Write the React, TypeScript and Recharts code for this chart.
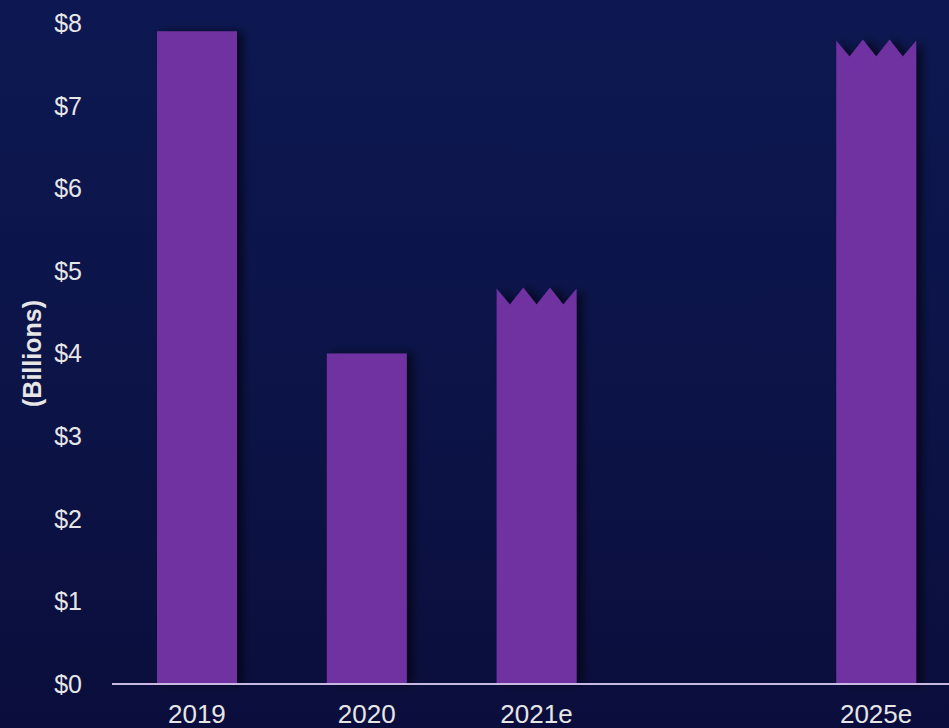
import React from "react";
import { BarChart, Bar, XAxis, YAxis } from "recharts";

const years = ["2019", "2020", "2021e", "", "2025e"];
const revenue = [7.9, 4.0, 4.8, null, 7.8];
const estimated = [false, false, true, false, true];
const yTicks = [0, 1, 2, 3, 4, 5, 6, 7, 8];

const data = years.map((year, i) => ({
  year,
  revenue: revenue[i],
  estimated: estimated[i],
}));

const FONT = '"Liberation Sans", Arial, sans-serif';
const BAR_COLOR = "#7030a0";

// bar with an optional zig-zag "broken" top for estimates
const BarShape = (props: any) => {
  const { x, y, width, height, payload } = props;
  if (height == null || height <= 0) return null;
  const bottom = y + height;
  let d: string;
  if (payload && payload.estimated) {
    const step = width / 6;
    const depth = 17;
    d = `M${x},${bottom} L${x},${y + 1}`;
    for (let k = 1; k <= 5; k++) {
      d += ` L${x + step * k},${k % 2 === 1 ? y + depth : y}`;
    }
    d += ` L${x + width},${y + 1} L${x + width},${bottom} Z`;
  } else {
    d = `M${x},${bottom} L${x},${y} L${x + width},${y} L${x + width},${bottom} Z`;
  }
  return <path d={d} fill={BAR_COLOR} filter="url(#barShadow)" />;
};

const AxisTitle = (props: any) => {
  const vb = props.viewBox || {};
  const cx = 32;
  const cy = vb.y + vb.height / 2;
  return (
    <text
      x={cx}
      y={cy}
      transform={`rotate(-90 ${cx} ${cy})`}
      textAnchor="middle"
      dominantBaseline="central"
      fill="#e6e6e6"
      fontFamily={FONT}
      fontSize={25}
      fontWeight="bold"
    >
      (Billions)
    </text>
  );
};

export default function App() {
  return (
    <div
      style={{
        position: "absolute",
        left: 0,
        top: 0,
        width: 949,
        height: 728,
        overflow: "hidden",
        background: "linear-gradient(180deg, #0d1852 0%, #0c1448 50%, #0b0e3c 100%)",
      }}
    >
      <BarChart
        width={961}
        height={728}
        data={data}
        margin={{ top: 23, right: 0, bottom: 0, left: 0 }}
        barSize={80}
      >
        <defs>
          <filter id="barShadow" x="-20%" y="-5%" width="150%" height="110%">
            <feDropShadow dx={6} dy={0} stdDeviation={4} floodColor="#000000" floodOpacity={0.6} />
          </filter>
        </defs>
        <XAxis
          dataKey="year"
          height={44}
          tickLine={false}
          tickMargin={15}
          axisLine={{ stroke: "#c9b8e2", strokeWidth: 2 }}
          tick={{ fill: "#e6e6e6", fontSize: 26, fontFamily: FONT }}
          interval={0}
        />
        <YAxis
          width={112}
          domain={[0, 8]}
          ticks={yTicks}
          axisLine={false}
          tickLine={false}
          tickMargin={24}
          tickFormatter={(v) => `$${v}`}
          tick={{ fill: "#e6e6e6", fontSize: 25, fontFamily: FONT }}
          label={{ content: AxisTitle }}
        />
        <Bar dataKey="revenue" shape={BarShape} isAnimationActive={false} />
      </BarChart>
    </div>
  );
}
